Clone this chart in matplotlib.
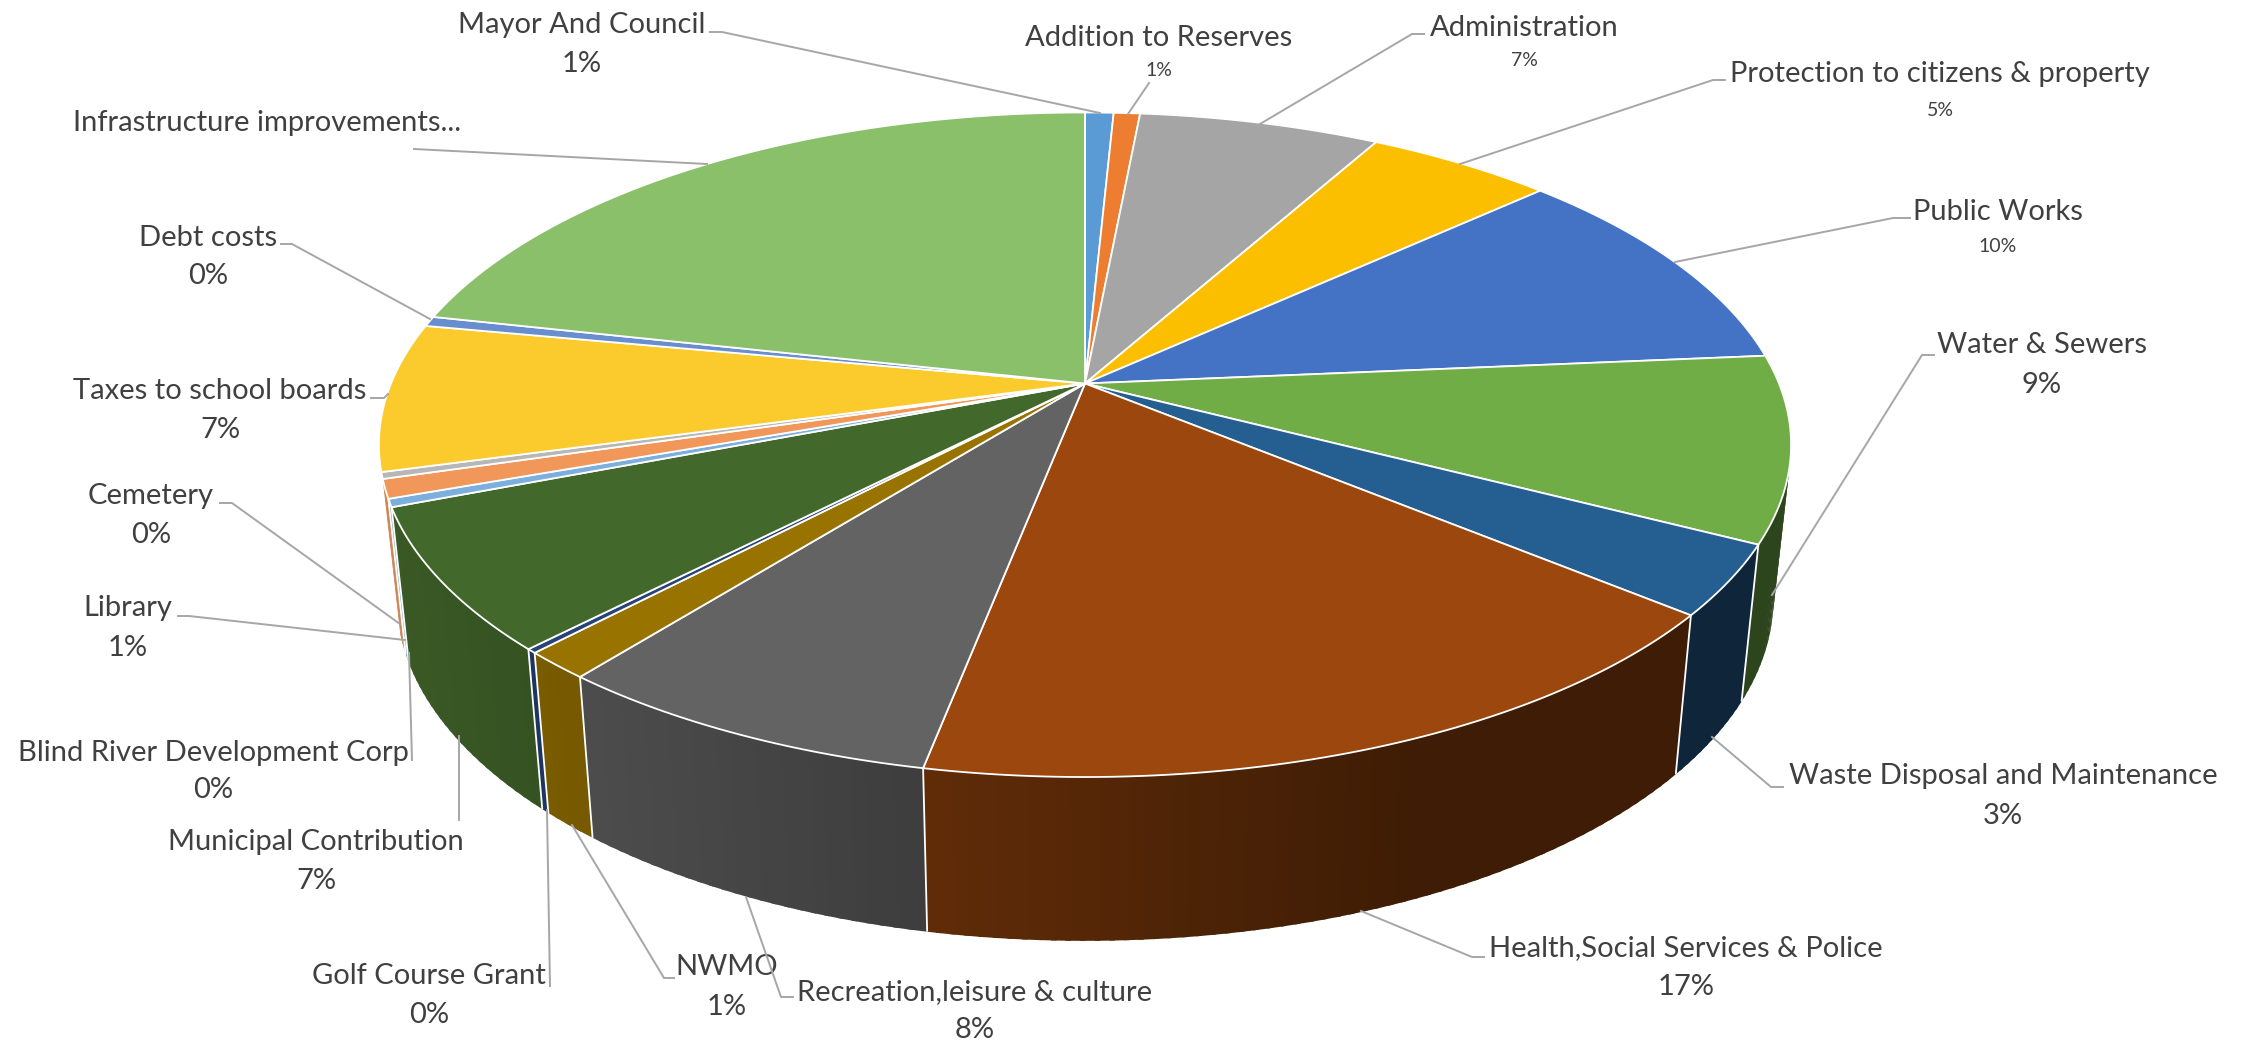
import matplotlib
matplotlib.use('Agg')
import matplotlib.pyplot as plt
from matplotlib.colors import to_rgb
import numpy as np

# slices, clockwise from 12 o'clock (share of the total in %)
categorias = ['Mayor And Council', 'Addition to Reserves', 'Administration',
              'Protection to citizens & property', 'Public Works', 'Water & Sewers',
              'Waste Disposal and Maintenance', 'Health,Social Services & Police',
              'Recreation,leisure & culture', 'NWMO', 'Golf Course Grant',
              'Municipal Contribution', 'Blind River Development Corp', 'Library',
              'Cemetery', 'Taxes to school boards', 'Debt costs',
              'Infrastructure improvements...']
valores = [0.78, 0.72, 6.6, 5.1, 10.4, 9.0, 3.4, 17.06, 7.64, 1.35, 0.2, 6.89,
           0.39, 0.92, 0.32, 7.2, 0.49, 21.54]
porcentajes = ['1%', '1%', '7%', '5%', '10%', '9%', '3%', '17%', '8%', '1%', '0%', '7%',
               '0%', '1%', '0%', '7%', '0%', '']
colores = ['#5b9bd5', '#ed7d31', '#a5a5a5', '#fcbf00', '#4472c4', '#70ad47',
           '#255e91', '#9c470d', '#636363', '#997300', '#264478', '#43682b',
           '#7cafdd', '#f1975a', '#b7b7b7', '#fbcb2e', '#698ed0', '#8bc06a']

# label centre x, name y, percent y (pixels of the picture)
pos_etiquetas = [(582, 23, 62), (1159, 36, 68), (1524, 26, 59), (1940, 72, 108),
                 (1998, 210, 244), (2042, 343, 383), (2003, 774, 814), (1686, 946, 985),
                 (975, 990, 1028), (727, 965, 1005), (429, 974, 1013), (316, 840, 879),
                 (213, 751, 788), (128, 606, 646), (151, 494, 533), (220, 389, 428),
                 (208, 236, 274), (267, 121, 0)]
pct_pequeno = [False, True, True, True, True] + [False] * 13

# leader lines
lineas = [[(710, 32), (722, 32), (1100, 113)],
          [(1149, 83), (1128, 114)],
          [(1424, 34), (1412, 34), (1260, 124)],
          [(1725, 80), (1713, 80), (1460, 164)],
          [(1910, 218), (1893, 218), (1675, 262)],
          [(1934, 355), (1922, 355), (1772, 595)],
          [(1783, 787), (1771, 787), (1712, 737)],
          [(1484, 957), (1472, 957), (1361, 911)],
          [(793, 997), (781, 997), (746, 897)],
          [(674, 978), (664, 978), (572, 825)],
          [(550, 986), (547, 810)],
          [(459, 820), (459, 736)],
          [(412, 760), (409, 653)],
          [(178, 616), (189, 616), (405, 640)],
          [(220, 503), (232, 503), (400, 624)],
          [(371, 398), (384, 398), (388, 394)],
          [(281, 244), (292, 244), (430, 319)],
          [(414, 149), (707, 164)]]

CX, CY = 1085, 383.5
A, B, K = 694, 321, 0.1843


def proyectar(theta):
    # theta in degrees clockwise from the top, perspective view of the rim
    t = np.radians(theta)
    u, v = np.sin(t), -np.cos(t)
    w = 1 - K * v
    return CX + A * u / w, CY + B * v / w


def proyectar_base(theta):
    x, y = proyectar(theta)
    return CX + 0.975 * (x - CX), CY + 152 + 1.03 * (y - CY)


def sombra(x):
    # the wall gets darker from left to right
    return max(0.4, 0.85 - 0.45 * (x - 400) / 1010)


fig = plt.figure(figsize=(22.52, 10.43), dpi=100)
ax = fig.add_axes([0, 0, 1, 1])
ax.set_xlim(0, 2252)
ax.set_ylim(1043, 0)
ax.axis('off')

bordes = np.concatenate([[0], np.cumsum(valores)]) / sum(valores) * 360

# walls: each strip runs a little under the next one so no seams show
for i, color in enumerate(colores):
    ini, fin = bordes[i], bordes[i + 1]
    if fin < 84 or ini > 253:
        continue
    n = max(1, int((fin - ini) / 1.0))
    angulos = np.linspace(ini, fin, n + 1)
    for a0, a1 in zip(angulos[:-1], angulos[1:]):
        a2 = min(a1 + 0.4, fin)
        arco = np.linspace(a0, a2, 4)
        xt, yt = proyectar(arco)
        xb, yb = proyectar_base(arco[::-1])
        f = sombra(xt.mean())
        c = tuple(f * np.array(to_rgb(color)))
        ax.fill(np.r_[xt, xb], np.r_[yt, yb], color=c, lw=0, zorder=2)

# white edges between the walls
for b in bordes:
    if 100 < b < 251:
        x0, y0 = proyectar(b)
        x1, y1 = proyectar_base(b)
        ax.plot([x0, x1], [y0, y1], color='white', lw=1.3, zorder=3, solid_capstyle='butt')

# top face
for i, color in enumerate(colores):
    angulos = np.linspace(bordes[i], bordes[i + 1], max(2, int(valores[i] * 4)))
    xs, ys = proyectar(angulos)
    ax.fill(np.r_[CX, xs], np.r_[CY, ys], facecolor=color, edgecolor='white',
            lw=1.3, joinstyle='round', zorder=4)

for linea in lineas:
    xs, ys = zip(*linea)
    ax.plot(xs, ys, color='#a6a6a6', lw=1.4, zorder=5)

GRIS = '#404040'
FUENTE = 'Lato'
for nombre, pct, (x, y1, y2), chico in zip(categorias, porcentajes, pos_etiquetas, pct_pequeno):
    ax.text(x, y1 + 2, nombre, ha='center', va='center', fontsize=21, color=GRIS, family=FUENTE)
    if pct:
        ax.text(x, y2 + 2, pct, ha='center', va='center', fontsize=14 if chico else 21,
                color=GRIS, family=FUENTE)

fig.savefig('out.png', dpi=100)
